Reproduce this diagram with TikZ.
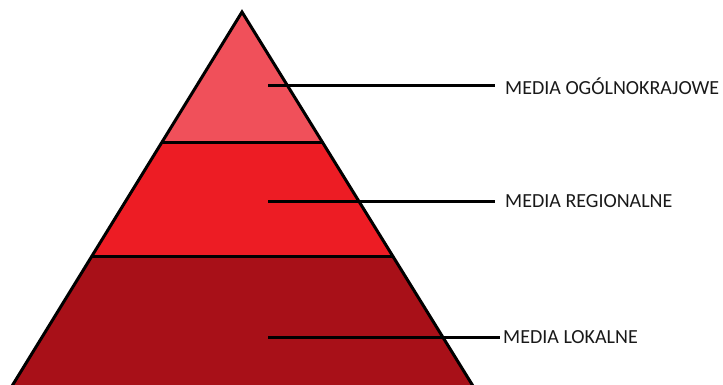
\documentclass[tikz,border=0pt]{standalone}
\usepackage{fontspec}
\setmainfont{Carlito}
\usetikzlibrary{calc}
\definecolor{topband}{RGB}{240,80,90}
\definecolor{midband}{RGB}{237,28,36}
\definecolor{lowband}{RGB}{168,16,24}
\begin{document}
\begin{tikzpicture}[x=1pt,y=-1pt,
  edge/.style={line width=3pt,line join=miter},
  conn/.style={line width=3pt},
  lbl/.style={anchor=west,inner sep=0pt,font=\fontsize{20}{24}\selectfont,text=black!90}]
\useasboundingbox (0,0) rectangle (723,385);
\coordinate (apex) at (242,12);
\coordinate (bl) at (12,386);
\coordinate (br) at (473,386);
\coordinate (l1) at ($(apex)!0.3495!(bl)$);
\coordinate (r1) at ($(apex)!0.3495!(br)$);
\coordinate (l2) at ($(apex)!0.6532!(bl)$);
\coordinate (r2) at ($(apex)!0.6532!(br)$);
\fill[topband] (apex) -- (r1) -- (l1) -- cycle;
\fill[midband] (l1) -- (r1) -- (r2) -- (l2) -- cycle;
\fill[lowband] (l2) -- (r2) -- (br) -- (bl) -- cycle;
\draw[edge] (l1) -- (r1);
\draw[edge] (l2) -- (r2);
\draw[edge] (bl) -- (apex) -- (br);
\node[lbl] (t1) at (505,86) {MEDIA OGÓLNOKRAJOWE};
\node[lbl] (t2) at (505,201) {MEDIA REGIONALNE};
\node[lbl] (t3) at (503,337) {MEDIA LOKALNE};
\coordinate (s1) at (268,86);
\coordinate (s2) at (268,201);
\coordinate (s3) at (268,337);
\draw[conn] (s1) -- ([xshift=-10pt]t1.west);
\draw[conn] (s2) -- ([xshift=-10pt]t2.west);
\draw[conn] (s3) -- ([xshift=-3pt]t3.west);
\end{tikzpicture}
\end{document}
